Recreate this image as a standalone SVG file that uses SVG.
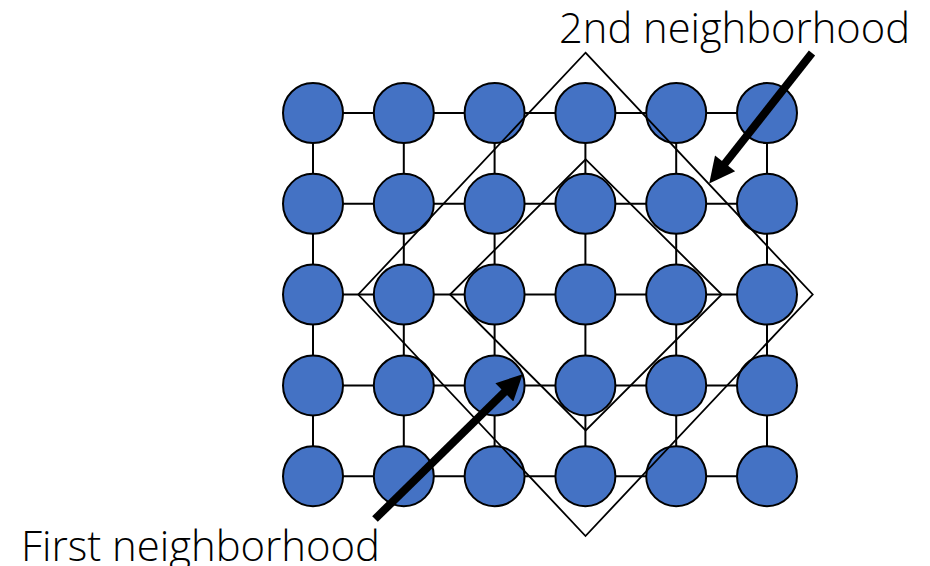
<svg xmlns="http://www.w3.org/2000/svg" width="930" height="566" viewBox="0 0 930 566">
  <style>
    .grid line { stroke: #000; stroke-width: 2; }
    .node circle { fill: #4472C4; stroke: #000; stroke-width: 2; }
    .hood { fill: none; stroke: #000; stroke-width: 1.8; stroke-linejoin: miter; }
    .pointer { stroke: #000; stroke-width: 8; fill: none; marker-end: url(#head); }
    .label { font-family: "Open Sans", "Liberation Sans", sans-serif; font-weight: 300; font-size: 42px; fill: #000; }
  </style>
  <defs>
    <marker id="head" viewBox="0 0 10 10" refX="2" refY="5" markerWidth="3.5" markerHeight="3.2" markerUnits="strokeWidth" orient="auto">
      <path d="M0,0 L10,5 L0,10 z" fill="#000"/>
    </marker>
  </defs>
  <rect width="930" height="566" fill="#fff"/>

  <!-- lattice connectors -->
  <g id="connectors" class="grid">
    <line x1="313" y1="113" x2="767" y2="113"/>
    <line x1="313" y1="203.8" x2="767" y2="203.8"/>
    <line x1="313" y1="294.6" x2="767" y2="294.6"/>
    <line x1="313" y1="385.4" x2="767" y2="385.4"/>
    <line x1="313" y1="476.2" x2="767" y2="476.2"/>
    <line x1="313" y1="113" x2="313" y2="476.2"/>
    <line x1="403.8" y1="113" x2="403.8" y2="476.2"/>
    <line x1="494.6" y1="113" x2="494.6" y2="476.2"/>
    <line x1="585.4" y1="113" x2="585.4" y2="476.2"/>
    <line x1="676.2" y1="113" x2="676.2" y2="476.2"/>
    <line x1="767" y1="113" x2="767" y2="476.2"/>
  </g>

  <!-- lattice nodes, row by row -->
  <g id="n-0-0" class="node"><circle cx="313" cy="113" r="30"/></g>
  <g id="n-0-1" class="node"><circle cx="403.8" cy="113" r="30"/></g>
  <g id="n-0-2" class="node"><circle cx="494.6" cy="113" r="30"/></g>
  <g id="n-0-3" class="node"><circle cx="585.4" cy="113" r="30"/></g>
  <g id="n-0-4" class="node"><circle cx="676.2" cy="113" r="30"/></g>
  <g id="n-0-5" class="node"><circle cx="767" cy="113" r="30"/></g>

  <g id="n-1-0" class="node"><circle cx="313" cy="203.8" r="30"/></g>
  <g id="n-1-1" class="node"><circle cx="403.8" cy="203.8" r="30"/></g>
  <g id="n-1-2" class="node"><circle cx="494.6" cy="203.8" r="30"/></g>
  <g id="n-1-3" class="node"><circle cx="585.4" cy="203.8" r="30"/></g>
  <g id="n-1-4" class="node"><circle cx="676.2" cy="203.8" r="30"/></g>
  <g id="n-1-5" class="node"><circle cx="767" cy="203.8" r="30"/></g>

  <g id="n-2-0" class="node"><circle cx="313" cy="294.6" r="30"/></g>
  <g id="n-2-1" class="node"><circle cx="403.8" cy="294.6" r="30"/></g>
  <g id="n-2-2" class="node"><circle cx="494.6" cy="294.6" r="30"/></g>
  <g id="n-2-3" class="node"><circle cx="585.4" cy="294.6" r="30"/></g>
  <g id="n-2-4" class="node"><circle cx="676.2" cy="294.6" r="30"/></g>
  <g id="n-2-5" class="node"><circle cx="767" cy="294.6" r="30"/></g>

  <g id="n-3-0" class="node"><circle cx="313" cy="385.4" r="30"/></g>
  <g id="n-3-1" class="node"><circle cx="403.8" cy="385.4" r="30"/></g>
  <g id="n-3-2" class="node"><circle cx="494.6" cy="385.4" r="30"/></g>
  <g id="n-3-3" class="node"><circle cx="585.4" cy="385.4" r="30"/></g>
  <g id="n-3-4" class="node"><circle cx="676.2" cy="385.4" r="30"/></g>
  <g id="n-3-5" class="node"><circle cx="767" cy="385.4" r="30"/></g>

  <g id="n-4-0" class="node"><circle cx="313" cy="476.2" r="30"/></g>
  <g id="n-4-1" class="node"><circle cx="403.8" cy="476.2" r="30"/></g>
  <g id="n-4-2" class="node"><circle cx="494.6" cy="476.2" r="30"/></g>
  <g id="n-4-3" class="node"><circle cx="585.4" cy="476.2" r="30"/></g>
  <g id="n-4-4" class="node"><circle cx="676.2" cy="476.2" r="30"/></g>
  <g id="n-4-5" class="node"><circle cx="767" cy="476.2" r="30"/></g>

  <!-- neighborhood outlines around the centre node -->
  <g id="neighborhoods">
    <polygon id="first-hood" class="hood" points="585.7,159.3 721.7,294.5 585.7,430.5 450,294.5"/>
    <polygon id="second-hood" class="hood" points="585.5,52.7 812.7,294.5 585.5,536 358.3,294.5"/>
  </g>

  <!-- callout pointers -->
  <g id="pointers">
    <line class="pointer" x1="812" y1="53" x2="721.9" y2="167.4"/>
    <line class="pointer" x1="375" y1="519" x2="508" y2="388.7"/>
  </g>

  <!-- labels -->
  <g id="labels">
    <text class="label" x="559" y="42.5" textLength="351" lengthAdjust="spacingAndGlyphs">2nd neighborhood</text>
    <text class="label" x="21" y="561" textLength="359" lengthAdjust="spacingAndGlyphs">First neighborhood</text>
  </g>
</svg>
